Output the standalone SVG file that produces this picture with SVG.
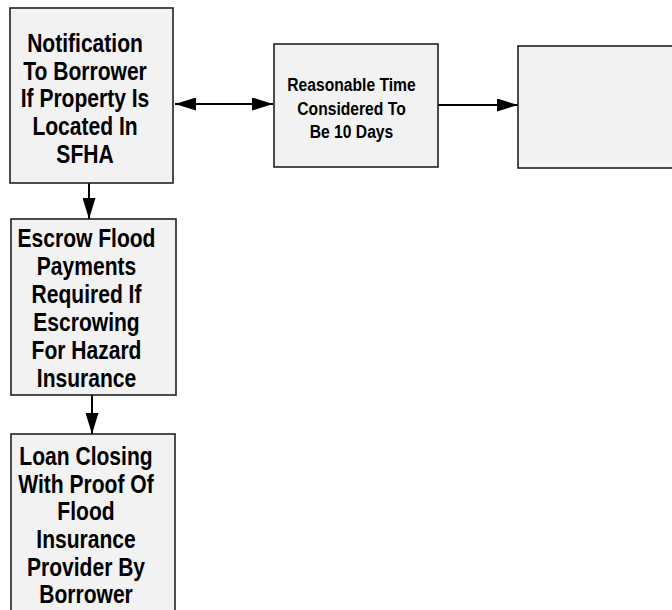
<svg xmlns="http://www.w3.org/2000/svg" width="672" height="610" viewBox="0 0 672 610">
<style>
.box{fill:#f2f2f2;stroke:#222;stroke-width:1.6}
.t{font-family:"Liberation Sans",Arial,sans-serif;font-weight:bold;fill:#000;text-anchor:middle}
.big{font-size:26px}
.small{font-size:18px}
.line{stroke:#000;stroke-width:2;fill:none}
</style>
<defs>
<marker id="ah" viewBox="0 0 21 13" refX="21" refY="6.5" markerWidth="21" markerHeight="13" markerUnits="userSpaceOnUse" orient="auto-start-reverse">
<path d="M0,0 L21,6.5 L0,13 Z" fill="#000"/>
</marker>
</defs>
<rect width="672" height="610" fill="#fff"/>
<g id="connectors">
<line class="line" x1="175" y1="104" x2="273" y2="104" marker-start="url(#ah)" marker-end="url(#ah)"/>
<line class="line" x1="438" y1="105" x2="518" y2="105" marker-end="url(#ah)"/>
<line class="line" x1="89" y1="183" x2="89" y2="219" marker-end="url(#ah)"/>
<line class="line" x1="92" y1="395" x2="92" y2="434" marker-end="url(#ah)"/>
</g>
<g id="n1">
<rect class="box" x="10" y="8" width="163" height="175"/>
<g transform="translate(85 0) scale(0.81 1)">
<text class="t big" x="0" y="52">Notification</text>
<text class="t big" x="0" y="80">To Borrower</text>
<text class="t big" x="0" y="107">If Property Is</text>
<text class="t big" x="0" y="135">Located In</text>
<text class="t big" x="0" y="163">SFHA</text>
</g>
</g>
<g id="n2">
<rect class="box" x="274" y="44" width="164" height="123"/>
<g transform="translate(351.5 0) scale(0.87 1)">
<text class="t small" x="0" y="91">Reasonable Time</text>
<text class="t small" x="0" y="115">Considered To</text>
<text class="t small" x="0" y="138">Be 10 Days</text>
</g>
</g>
<g id="n3">
<rect class="box" x="518" y="46" width="170" height="122"/>
</g>
<g id="n4">
<rect class="box" x="11" y="219" width="165" height="176"/>
<g transform="translate(86.5 0) scale(0.81 1)">
<text class="t big" x="0" y="247">Escrow Flood</text>
<text class="t big" x="0" y="275">Payments</text>
<text class="t big" x="0" y="303">Required If</text>
<text class="t big" x="0" y="331">Escrowing</text>
<text class="t big" x="0" y="359">For Hazard</text>
<text class="t big" x="0" y="387">Insurance</text>
</g>
</g>
<g id="n5">
<rect class="box" x="11" y="434" width="164" height="190"/>
<g transform="translate(86 0) scale(0.81 1)">
<text class="t big" x="0" y="465">Loan Closing</text>
<text class="t big" x="0" y="493">With Proof Of</text>
<text class="t big" x="0" y="520">Flood</text>
<text class="t big" x="0" y="548">Insurance</text>
<text class="t big" x="0" y="576">Provider By</text>
<text class="t big" x="0" y="603">Borrower</text>
</g>
</g>
</svg>
